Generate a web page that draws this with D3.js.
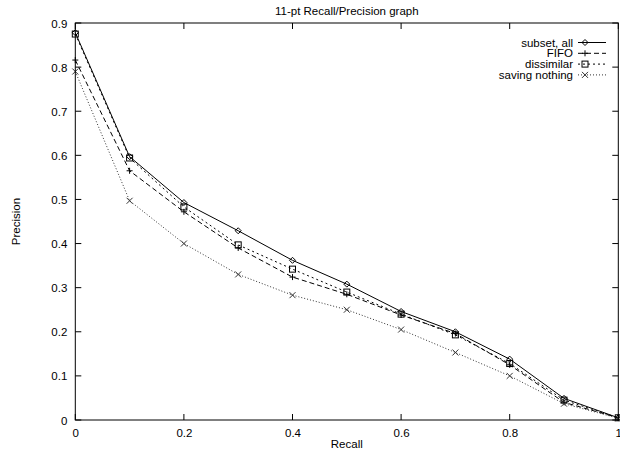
<!DOCTYPE html>
<html><head><meta charset="utf-8">
<script src="https://cdn.jsdelivr.net/npm/d3@7"></script>
<style>body{margin:0;background:#fff}svg{display:block}text{font-family:"Liberation Sans",Arial,sans-serif;fill:#000}</style>
</head><body>
<script>
const recall = [0, 0.1, 0.2, 0.3, 0.4, 0.5, 0.6, 0.7, 0.8, 0.9, 1.0];
const subsetAll = [0.878, 0.597, 0.493, 0.429, 0.362, 0.308, 0.246, 0.200, 0.138, 0.049, 0.005];
const fifo = [0.816, 0.565, 0.472, 0.390, 0.324, 0.285, 0.238, 0.196, 0.125, 0.040, 0.005];
const dissimilar = [0.875, 0.594, 0.483, 0.397, 0.342, 0.290, 0.240, 0.193, 0.128, 0.045, 0.005];
const savingNothing = [0.790, 0.497, 0.400, 0.330, 0.283, 0.250, 0.205, 0.153, 0.100, 0.037, 0.004];
const seriesNames = ["subset, all", "FIFO", "dissimilar", "saving nothing"];
const xTicks = [0, 0.2, 0.4, 0.6, 0.8, 1];
const yTicks = [0, 0.1, 0.2, 0.3, 0.4, 0.5, 0.6, 0.7, 0.8, 0.9];

const W = 620, H = 452;
const L = 75.3, R = 618.3, T = 23, B = 420;
const FS = 11.5;
const svg = d3.select("body").append("svg").attr("width", W).attr("height", H);
const x = d3.scaleLinear().domain([0, 1]).range([L, R]);
const y = d3.scaleLinear().domain([0, 0.9]).range([B, T]);

const styles = [
  {vals: subsetAll, dash: null, color: "#000", marker: "diamond"},
  {vals: fifo, dash: "5,3", color: "#000", marker: "plus"},
  {vals: dissimilar, dash: "2,3", color: "#000", marker: "square"},
  {vals: savingNothing, dash: "1,2", color: "#333", marker: "cross"}
];

const tl = 6;
const xa = d3.axisBottom(x).tickValues(xTicks).tickSize(0).tickPadding(7).tickFormat(d => d3.format("")(d));
const ya = d3.axisLeft(y).tickValues(yTicks).tickSize(0).tickPadding(8).tickFormat(d => d3.format("")(d));
const gx = svg.append("g").attr("transform", `translate(0,${B})`).call(xa);
const gy = svg.append("g").attr("transform", `translate(${L},0)`).call(ya);
[gx, gy].forEach(a => { a.select(".domain").remove(); a.selectAll("text").attr("font-size", FS).attr("font-family", '"Liberation Sans",Arial,sans-serif'); });
gx.selectAll("text").attr("dy", "0.9em");
gy.selectAll("text").attr("dy", "0.35em");

const tk = svg.append("g").attr("stroke", "#000").attr("stroke-width", 1);
xTicks.forEach(v => {
  tk.append("line").attr("x1", x(v)).attr("x2", x(v)).attr("y1", B).attr("y2", B - tl);
  tk.append("line").attr("x1", x(v)).attr("x2", x(v)).attr("y1", T).attr("y2", T + tl);
});
yTicks.forEach(v => {
  tk.append("line").attr("x1", L).attr("x2", L + tl).attr("y1", y(v)).attr("y2", y(v));
  tk.append("line").attr("x1", R).attr("x2", R - tl).attr("y1", y(v)).attr("y2", y(v));
});

function drawMarker(sel, type, cx, cy, color) {
  const s = 3;
  if (type === "diamond") {
    sel.append("path").attr("d", `M${cx},${cy - s}L${cx + s},${cy}L${cx},${cy + s}L${cx - s},${cy}Z`)
      .attr("fill", "none").attr("stroke", color);
  } else if (type === "plus") {
    sel.append("path").attr("d", `M${cx - s},${cy}H${cx + s}M${cx},${cy - s}V${cy + s}`).attr("stroke", color);
  } else if (type === "square") {
    sel.append("rect").attr("x", cx - s).attr("y", cy - s).attr("width", 2 * s).attr("height", 2 * s)
      .attr("fill", "none").attr("stroke", color);
  } else {
    sel.append("path").attr("d", `M${cx - s},${cy - s}L${cx + s},${cy + s}M${cx - s},${cy + s}L${cx + s},${cy - s}`).attr("stroke", color);
  }
}

const line = d3.line().x((d, i) => x(recall[i])).y(d => y(d));
const plot = svg.append("g");
styles.forEach(st => {
  plot.append("path").attr("d", line(st.vals)).attr("fill", "none").attr("stroke", st.color)
    .attr("stroke-width", 1).attr("stroke-dasharray", st.dash);
  st.vals.forEach((v, i) => drawMarker(plot, st.marker, x(recall[i]), y(v), st.color));
});

svg.append("rect").attr("x", L).attr("y", T).attr("width", R - L).attr("height", B - T)
  .attr("fill", "none").attr("stroke", "#000").attr("stroke-width", 1);

const leg = svg.append("g");
seriesNames.forEach((n, i) => {
  const ly = 42.5 + i * 10.8;
  leg.append("text").attr("x", 573).attr("y", ly).attr("dy", "0.35em").attr("text-anchor", "end")
    .attr("font-size", FS).text(n);
  leg.append("line").attr("x1", 578).attr("x2", 606).attr("y1", ly).attr("y2", ly)
    .attr("stroke", styles[i].color).attr("stroke-dasharray", styles[i].dash);
  drawMarker(leg, styles[i].marker, 585, ly, styles[i].color);
});

svg.append("text").attr("x", (L + R) / 2).attr("y", 11).attr("dy", "0.35em").attr("text-anchor", "middle")
  .attr("font-size", FS).text("11-pt Recall/Precision graph");
svg.append("text").attr("x", (L + R) / 2).attr("y", 444).attr("dy", "0.35em").attr("text-anchor", "middle")
  .attr("font-size", FS).text("Recall");
svg.append("text").attr("transform", `translate(16,${(T + B) / 2}) rotate(-90)`).attr("dy", "0.35em")
  .attr("text-anchor", "middle").attr("font-size", FS).text("Precision");
</script>
</body></html>
